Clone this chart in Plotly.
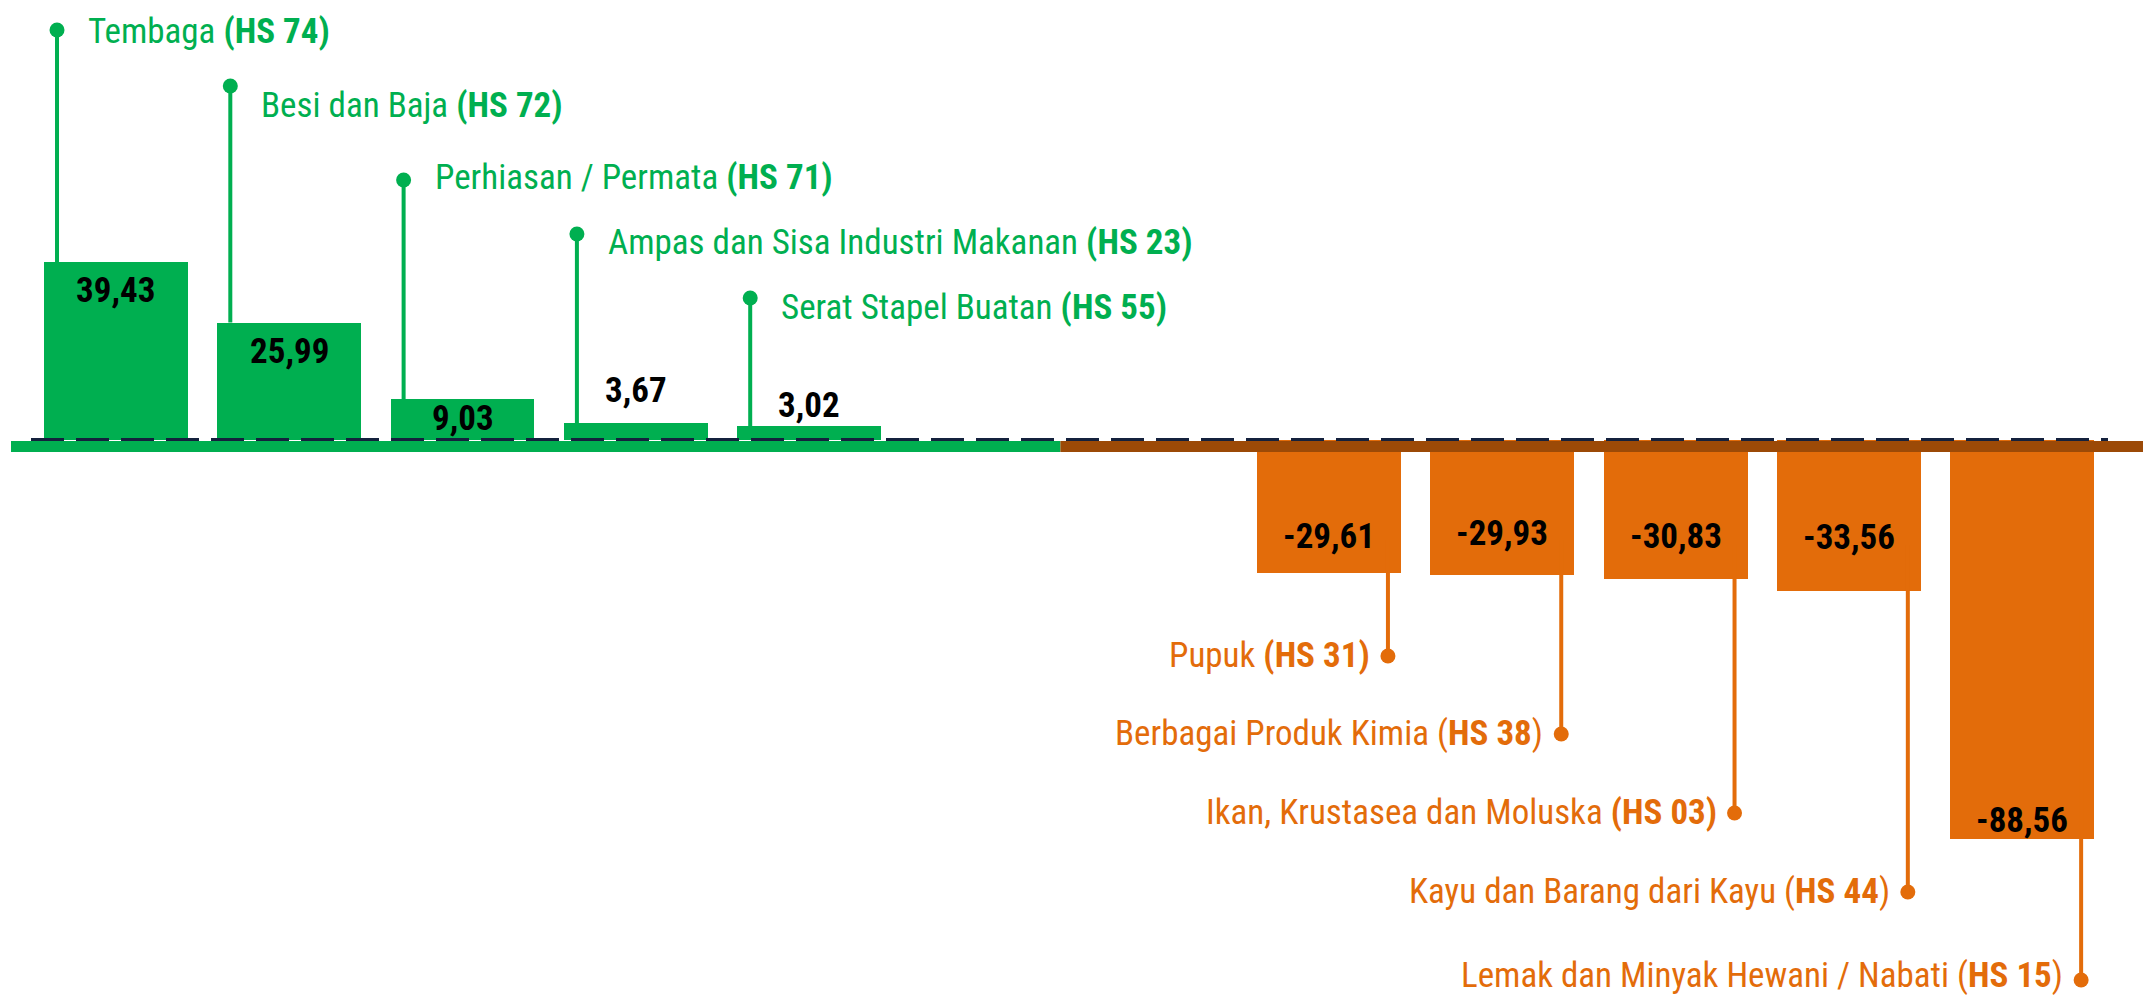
import plotly.graph_objects as go

# ---------------- data ----------------
categories = ["Tembaga", "Besi dan Baja", "Perhiasan / Permata",
              "Ampas dan Sisa Industri Makanan", "Serat Stapel Buatan",
              "Pupuk", "Berbagai Produk Kimia", "Ikan, Krustasea dan Moluska",
              "Kayu dan Barang dari Kayu", "Lemak dan Minyak Hewani / Nabati"]
hs_codes = ["74", "72", "71", "23", "55", "31", "38", "03", "44", "15"]
values = [39.43, 25.99, 9.03, 3.67, 3.02, -29.61, -29.93, -30.83, -33.56, -88.56]

# ---------------- layout / style ----------------
W, H = 2143, 997
GREEN = "#00AF50"
ORANGE = "#E36C0A"
BROWN = "#9C4A07"
DASH = "#14213D"
FONT = "Roboto Condensed, Liberation Sans Narrow, Arial Narrow, DejaVu Sans Condensed, sans-serif"

X_RANGE = [-0.669, 11.697]
Y_RANGE = [-123.5, 97.5]
BAR_W = 0.83

def px_to_y(py):
    return Y_RANGE[1] - py * (Y_RANGE[1] - Y_RANGE[0]) / H

def px_to_x(px):
    return X_RANGE[0] + px * (X_RANGE[1] - X_RANGE[0]) / W

# x slots: gainers in 0..4, losers in 7..11
n_pos = sum(1 for v in values if v >= 0)
x_pos = [i if v >= 0 else i + 2 for i, v in enumerate(values)]
colors = [GREEN if v >= 0 else ORANGE for v in values]

# value-label vertical positions (pixels in the page)
value_label_px = [290, 351, 418, 390, 405, 536, 533, 536, 537, 820]
# callout dot positions (pixels)
callout_dot_px = [30, 86, 180, 234, 298, 656, 734, 813, 892, 980]
callout_text_px = [31, 105, 177, 242, 307, 655, 733, 812, 891, 975]
# top of the orange leader lines (pixels)
stem_top_px = [None] * 5 + [540, 540, 545, 545, 610]
paren_bold = [True, True, True, True, True, True, False, True, False, False]
STEM_OFF = 0.34

fig = go.Figure()
fig.add_trace(go.Bar(
    x=x_pos, y=values, width=BAR_W,
    marker=dict(color=colors, line=dict(width=0)),
    hoverinfo="skip", showlegend=False,
))

shapes = []
annotations = []
dot_x, dot_y, dot_c = [], [], []

for i, v in enumerate(values):
    xc = x_pos[i]
    lab = f"{abs(v):.2f}".replace(".", ",")
    lab = ("-" if v < 0 else "") + lab
    annotations.append(dict(
        x=xc, y=px_to_y(value_label_px[i]), xref="x", yref="y",
        text=f"<b>{lab}</b>", showarrow=False,
        font=dict(family=FONT, size=35, color="#000000"),
        xanchor="center", yanchor="middle"))

    name = categories[i]
    code = hs_codes[i]
    if paren_bold[i]:
        txt = f"{name} <b>(HS {code})</b>"
    else:
        txt = f"{name} (<b>HS {code}</b>)"

    if v >= 0:
        sx = xc - STEM_OFF
        y0 = v
        col = GREEN
        annotations.append(dict(
            x=sx, y=px_to_y(callout_text_px[i]), xref="x", yref="y",
            text=txt, showarrow=False, xanchor="left", yanchor="middle",
            xshift=29, font=dict(family=FONT, size=35, color=GREEN)))
    else:
        sx = xc + STEM_OFF
        y0 = px_to_y(stem_top_px[i])
        col = ORANGE
        annotations.append(dict(
            x=sx, y=px_to_y(callout_text_px[i]), xref="x", yref="y",
            text=txt, showarrow=False, xanchor="right", yanchor="middle",
            xshift=-16, font=dict(family=FONT, size=35, color=ORANGE)))
    y1 = px_to_y(callout_dot_px[i])
    shapes.append(dict(type="line", xref="x", yref="y", x0=sx, x1=sx,
                       y0=y0, y1=y1, line=dict(color=col, width=4),
                       layer="above"))
    dot_x.append(sx)
    dot_y.append(y1)
    dot_c.append(col)

fig.add_trace(go.Scatter(
    x=dot_x, y=dot_y, mode="markers",
    marker=dict(color=dot_c, size=15, line=dict(width=0)),
    hoverinfo="skip", showlegend=False, cliponaxis=False))

# baseline: thick green / brown bar and dashed zero line
split_x = (x_pos[n_pos - 1] + x_pos[n_pos]) / 2 - 0.05
line_top = px_to_y(441)
line_bot = px_to_y(452)
shapes.append(dict(type="rect", xref="x", yref="y", x0=px_to_x(11), x1=split_x,
                   y0=line_bot, y1=line_top, fillcolor=GREEN,
                   line=dict(width=0), layer="above"))
shapes.append(dict(type="rect", xref="x", yref="y", x0=split_x, x1=X_RANGE[1],
                   y0=line_bot, y1=line_top, fillcolor=BROWN,
                   line=dict(width=0), layer="above"))
shapes.append(dict(type="line", xref="x", yref="y", x0=px_to_x(31), x1=px_to_x(2108),
                   y0=px_to_y(439.5), y1=px_to_y(439.5),
                   line=dict(color=DASH, width=3, dash="33px,12px"),
                   layer="above"))

fig.update_layout(
    width=W, height=H,
    margin=dict(l=0, r=0, t=0, b=0),
    paper_bgcolor="white", plot_bgcolor="white",
    xaxis=dict(range=X_RANGE, visible=False, fixedrange=True),
    yaxis=dict(range=Y_RANGE, visible=False, fixedrange=True),
    shapes=shapes, annotations=annotations,
    bargap=0, showlegend=False, hovermode=False,
)

fig.write_html("out.html",
               config={"displayModeBar": False, "staticPlot": True},
               post_script="document.body.style.margin='0';"
                           "document.body.style.overflow='hidden';")
